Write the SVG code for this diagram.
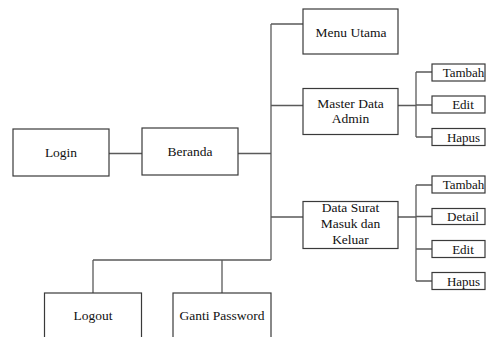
<svg xmlns="http://www.w3.org/2000/svg" width="487" height="337" viewBox="0 0 487 337" font-family="Liberation Serif, DejaVu Serif, serif">
<style>
.box{fill:#fff;stroke:#3a3a3a;stroke-width:1.2}
.ln{fill:none;stroke:#5a5a5a;stroke-width:1.3}
text{font-size:13.5px;fill:#111;text-anchor:middle}
.s{font-size:13px}
</style>
<rect width="487" height="337" fill="#fff"/>
<g id="connectors">
<path class="ln" d="M109,153.5H142"/>
<path class="ln" d="M238,153.5H271"/>
<path class="ln" d="M271,24V260"/>
<path class="ln" d="M271,24H303M271,105.5H303M271,217H303"/>
<path class="ln" d="M93,260H271M93,260V293M222,260V293"/>
<path class="ln" d="M398,105.5H416M416,72V137M416,72H432M416,105H432M416,137H432"/>
<path class="ln" d="M398,217H416M416,185V281M416,185H432M416,216.5H432M416,249H432M416,281H432"/>
</g>
<g id="login"><rect class="box" x="13" y="129" width="96" height="47"/><text x="61" y="157" font-family="Liberation Serif, serif">Login</text></g>
<g id="beranda"><rect class="box" x="142" y="128" width="96" height="47"/><text x="190" y="156">Beranda</text></g>
<g id="menu-utama"><rect class="box" x="303" y="9" width="95" height="45"/><text x="351" y="36.5">Menu Utama</text></g>
<g id="master-data-admin"><rect class="box" x="303" y="88.5" width="95" height="46"/><text x="350.5" y="107.5">Master Data</text><text x="350.5" y="123">Admin</text></g>
<g id="data-surat"><rect class="box" x="303" y="201.5" width="95" height="47"/><text x="350.5" y="212">Data Surat</text><text x="350.5" y="228">Masuk dan</text><text x="350.5" y="244">Keluar</text></g>
<g id="ma-tambah"><rect class="box" x="432" y="64" width="53" height="17"/><text class="s" x="463.5" y="76.5">Tambah</text></g>
<g id="ma-edit"><rect class="box" x="432" y="96" width="53" height="17"/><text class="s" x="463" y="109">Edit</text></g>
<g id="ma-hapus"><rect class="box" x="432" y="128.5" width="53" height="17"/><text class="s" x="463.5" y="141.5">Hapus</text></g>
<g id="ds-tambah"><rect class="box" x="432" y="176" width="53" height="17"/><text class="s" x="463.5" y="188.5">Tambah</text></g>
<g id="ds-detail"><rect class="box" x="432" y="208.5" width="53" height="16"/><text class="s" x="463" y="221">Detail</text></g>
<g id="ds-edit"><rect class="box" x="432" y="240.5" width="53" height="17"/><text class="s" x="463" y="253.5">Edit</text></g>
<g id="ds-hapus"><rect class="box" x="432" y="272.5" width="53" height="17"/><text class="s" x="463.5" y="285.5">Hapus</text></g>
<g id="logout"><rect class="box" x="44.5" y="293" width="97" height="60"/><text x="93" y="319.5">Logout</text></g>
<g id="ganti-password"><rect class="box" x="173" y="293" width="98" height="60"/><text x="222" y="319.5">Ganti Password</text></g>
</svg>
